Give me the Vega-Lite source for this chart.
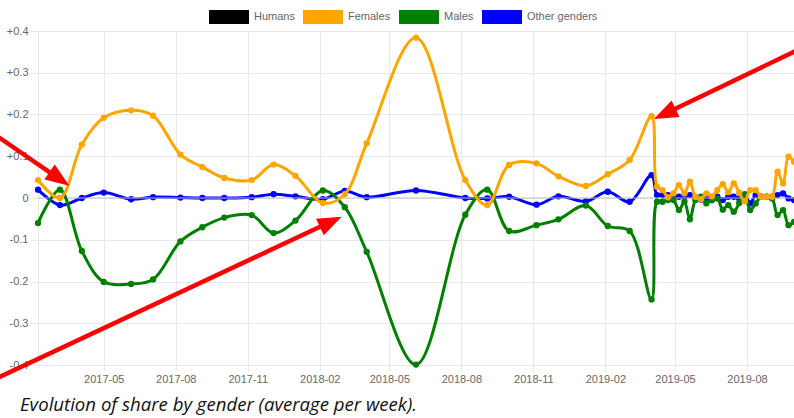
{
  "$schema": "https://vega.github.io/schema/vega-lite/v6.json",
  "width": 756,
  "height": 334,
  "autosize": {"type": "none"},
  "padding": {"left": 38, "top": 31, "right": 0, "bottom": 53},
  "background": "white",
  "config": {
    "view": {"stroke": null},
    "axisX": {
      "grid": true, "gridColor": "#e8e8e8", "tickColor": "#e8e8e8", "tickSize": 6,
      "domainColor": "#e8e8e8", "labelPadding": 2, "labelFlush": false,
      "labelColor": "#666666", "labelFont": "Liberation Sans", "labelFontSize": 11
    },
    "axisY": {
      "grid": true, "gridColor": "#e8e8e8", "tickColor": "#e8e8e8", "tickSize": 8,
      "domainColor": "#e8e8e8", "labelPadding": 2,
      "labelColor": "#666666", "labelFont": "Liberation Sans", "labelFontSize": 11
    }
  },
  "title": {
    "text": "Evolution of share by gender (average per week).",
    "orient": "bottom",
    "anchor": "start",
    "frame": "group",
    "font": "Open Sans",
    "fontStyle": "italic",
    "fontWeight": "normal",
    "fontSize": 18.6,
    "color": "#111111",
    "offset": 12,
    "dx": -18
  },
  "datasets": {
    "series": [
      {"date": "2017-02-06", "Females": 0.043, "Males": -0.060, "Other": 0.020},
      {"date": "2017-03-06", "Females": 0.000, "Males": 0.020, "Other": -0.017},
      {"date": "2017-04-03", "Females": 0.128, "Males": -0.127, "Other": 0.000},
      {"date": "2017-05-01", "Females": 0.192, "Males": -0.201, "Other": 0.013},
      {"date": "2017-06-05", "Females": 0.210, "Males": -0.206, "Other": -0.003},
      {"date": "2017-07-03", "Females": 0.197, "Males": -0.195, "Other": 0.002},
      {"date": "2017-08-07", "Females": 0.104, "Males": -0.104, "Other": 0.001},
      {"date": "2017-09-04", "Females": 0.074, "Males": -0.070, "Other": 0.000},
      {"date": "2017-10-02", "Females": 0.048, "Males": -0.047, "Other": 0.000},
      {"date": "2017-11-06", "Females": 0.043, "Males": -0.041, "Other": 0.002},
      {"date": "2017-12-04", "Females": 0.080, "Males": -0.084, "Other": 0.009},
      {"date": "2018-01-01", "Females": 0.053, "Males": -0.054, "Other": 0.004},
      {"date": "2018-02-05", "Females": -0.012, "Males": 0.018, "Other": -0.003},
      {"date": "2018-03-05", "Females": 0.009, "Males": -0.022, "Other": 0.017},
      {"date": "2018-04-02", "Females": 0.131, "Males": -0.129, "Other": 0.002},
      {"date": "2018-06-04", "Females": 0.384, "Males": -0.399, "Other": 0.018},
      {"date": "2018-08-06", "Females": 0.043, "Males": -0.040, "Other": 0.000},
      {"date": "2018-09-03", "Females": -0.017, "Males": 0.020, "Other": -0.001},
      {"date": "2018-10-01", "Females": 0.079, "Males": -0.079, "Other": 0.003},
      {"date": "2018-11-05", "Females": 0.083, "Males": -0.065, "Other": -0.016},
      {"date": "2018-12-03", "Females": 0.052, "Males": -0.051, "Other": 0.004},
      {"date": "2019-01-07", "Females": 0.029, "Males": -0.018, "Other": -0.008},
      {"date": "2019-02-04", "Females": 0.057, "Males": -0.067, "Other": 0.015},
      {"date": "2019-03-04", "Females": 0.091, "Males": -0.079, "Other": -0.009},
      {"date": "2019-04-01", "Females": 0.196, "Males": -0.243, "Other": 0.055},
      {"date": "2019-04-08", "Females": 0.027, "Males": -0.009, "Other": 0.007},
      {"date": "2019-04-15", "Females": 0.019, "Males": -0.009, "Other": 0.007},
      {"date": "2019-04-22", "Females": 0.002, "Males": -0.005, "Other": 0.007},
      {"date": "2019-04-29", "Females": 0.011, "Males": -0.005, "Other": 0.003},
      {"date": "2019-05-06", "Females": 0.031, "Males": -0.029, "Other": 0.003},
      {"date": "2019-05-13", "Females": 0.011, "Males": -0.009, "Other": 0.003},
      {"date": "2019-05-20", "Females": 0.039, "Males": -0.051, "Other": 0.007},
      {"date": "2019-05-27", "Females": 0.003, "Males": -0.005, "Other": 0.001},
      {"date": "2019-06-03", "Females": -0.003, "Males": 0.003, "Other": -0.004},
      {"date": "2019-06-10", "Females": 0.011, "Males": -0.013, "Other": -0.001},
      {"date": "2019-06-17", "Females": 0.004, "Males": -0.005, "Other": -0.005},
      {"date": "2019-06-24", "Females": 0.019, "Males": -0.001, "Other": 0.003},
      {"date": "2019-07-01", "Females": 0.033, "Males": -0.028, "Other": -0.005},
      {"date": "2019-07-08", "Females": 0.014, "Males": -0.017, "Other": 0.003},
      {"date": "2019-07-15", "Females": 0.035, "Males": -0.033, "Other": 0.003},
      {"date": "2019-07-22", "Females": 0.013, "Males": -0.012, "Other": -0.001},
      {"date": "2019-07-29", "Females": -0.008, "Males": 0.009, "Other": 0.007},
      {"date": "2019-08-05", "Females": 0.019, "Males": -0.029, "Other": -0.013},
      {"date": "2019-08-12", "Females": 0.019, "Males": -0.013, "Other": 0.007},
      {"date": "2019-08-19", "Females": 0.003, "Males": 0.003, "Other": 0.003},
      {"date": "2019-08-26", "Females": 0.003, "Males": 0.003, "Other": 0.003},
      {"date": "2019-09-02", "Females": 0.003, "Males": -0.001, "Other": 0.003},
      {"date": "2019-09-09", "Females": 0.063, "Males": -0.041, "Other": 0.007},
      {"date": "2019-09-16", "Females": 0.035, "Males": -0.029, "Other": 0.011},
      {"date": "2019-09-23", "Females": 0.099, "Males": -0.065, "Other": -0.001},
      {"date": "2019-09-30", "Females": 0.087, "Males": -0.057, "Other": -0.005}
    ],
    "arrows": [
      {"id": 1, "x_from": "2016-12-07", "v_from": 0.1595, "x_to": "2017-03-05", "v_to": 0.0457, "x_tip": "2017-03-18", "v_tip": 0.0295},
      {"id": 2, "x_from": "2016-12-07", "v_from": -0.439, "x_to": "2018-02-15", "v_to": -0.057, "x_tip": "2018-03-01", "v_tip": -0.0448},
      {"id": 3, "x_from": "2019-10-13", "v_from": 0.362, "x_to": "2019-04-18", "v_to": 0.2017, "x_tip": "2019-04-04", "v_tip": 0.189}
    ]
  },
  "layer": [
    {
      "data": {"name": "series"},
      "mark": {"type": "line", "interpolate": "catmull-rom", "strokeWidth": 3, "point": {"filled": true, "size": 40}},
      "encoding": {
        "x": {
          "field": "date", "type": "temporal", "title": null,
          "scale": {"type": "utc", "domain": [{"year": 2017, "month": 2, "date": 6, "utc": true}, {"year": 2019, "month": 9, "date": 30, "utc": true}], "nice": false},
          "axis": {
            "values": [
              {"year": 2017, "month": 5, "date": 1, "utc": true},
              {"year": 2017, "month": 8, "date": 1, "utc": true},
              {"year": 2017, "month": 11, "date": 1, "utc": true},
              {"year": 2018, "month": 2, "date": 1, "utc": true},
              {"year": 2018, "month": 5, "date": 1, "utc": true},
              {"year": 2018, "month": 8, "date": 1, "utc": true},
              {"year": 2018, "month": 11, "date": 1, "utc": true},
              {"year": 2019, "month": 2, "date": 1, "utc": true},
              {"year": 2019, "month": 5, "date": 1, "utc": true},
              {"year": 2019, "month": 8, "date": 1, "utc": true}
            ],
            "labelExpr": "utcFormat(datum.value, '%Y-%m')"
          }
        },
        "y": {
          "field": "Other", "type": "quantitative", "title": null,
          "scale": {"domain": [-0.4, 0.4], "nice": false},
          "axis": {
            "values": [-0.4, -0.3, -0.2, -0.1, 0, 0.1, 0.2, 0.3, 0.4],
            "labelExpr": "datum.value > 0.0001 ? '+' + format(datum.value, '.1f') : (datum.value < -0.0001 ? '-' + format(-datum.value, '.1f') : '0')"
          }
        },
        "color": {
          "datum": "Other genders", "type": "nominal",
          "scale": {"domain": ["Humans", "Females", "Males", "Other genders"], "range": ["black", "orange", "green", "blue"]},
          "legend": {
            "title": null, "orient": "none", "legendX": 164, "legendY": -41, "direction": "horizontal",
            "symbolType": "M-1,0L1,0", "symbolSize": 1600, "symbolStrokeWidth": 14, "symbolOpacity": 1,
            "labelFont": "Liberation Sans", "labelFontSize": 11, "labelColor": "#666666",
            "labelOffset": -2, "columnPadding": -20, "padding": 0
          }
        }
      }
    },
    {
      "data": {"values": [{"zero": 0}]},
      "mark": {"type": "rule", "color": "#bfbfbf", "strokeWidth": 1},
      "encoding": {
        "y": {"field": "zero", "type": "quantitative", "title": null, "scale": {"domain": [-0.4, 0.4], "nice": false},
          "axis": {
            "values": [-0.4, -0.3, -0.2, -0.1, 0, 0.1, 0.2, 0.3, 0.4],
            "labelExpr": "datum.value > 0.0001 ? '+' + format(datum.value, '.1f') : (datum.value < -0.0001 ? '-' + format(-datum.value, '.1f') : '0')"
          }
        }
      }
    },
    {
      "data": {"name": "series"},
      "mark": {"type": "line", "interpolate": "catmull-rom", "strokeWidth": 3, "point": {"filled": true, "size": 40}},
      "encoding": {
        "x": {"field": "date", "type": "temporal", "title": null, "scale": {"type": "utc", "domain": [{"year": 2017, "month": 2, "date": 6, "utc": true}, {"year": 2019, "month": 9, "date": 30, "utc": true}], "nice": false},
          "axis": {"values": [
              {"year": 2017, "month": 5, "date": 1, "utc": true},
              {"year": 2017, "month": 8, "date": 1, "utc": true},
              {"year": 2017, "month": 11, "date": 1, "utc": true},
              {"year": 2018, "month": 2, "date": 1, "utc": true},
              {"year": 2018, "month": 5, "date": 1, "utc": true},
              {"year": 2018, "month": 8, "date": 1, "utc": true},
              {"year": 2018, "month": 11, "date": 1, "utc": true},
              {"year": 2019, "month": 2, "date": 1, "utc": true},
              {"year": 2019, "month": 5, "date": 1, "utc": true},
              {"year": 2019, "month": 8, "date": 1, "utc": true}
            ], "labelExpr": "utcFormat(datum.value, '%Y-%m')"}},
        "y": {"field": "Males", "type": "quantitative", "title": null, "scale": {"domain": [-0.4, 0.4], "nice": false}},
        "color": {"datum": "Males", "type": "nominal", "scale": {"domain": ["Humans", "Females", "Males", "Other genders"], "range": ["black", "orange", "green", "blue"]}}
      }
    },
    {
      "data": {"name": "series"},
      "mark": {"type": "line", "interpolate": "catmull-rom", "strokeWidth": 3, "point": {"filled": true, "size": 40}},
      "encoding": {
        "x": {"field": "date", "type": "temporal", "title": null, "scale": {"type": "utc", "domain": [{"year": 2017, "month": 2, "date": 6, "utc": true}, {"year": 2019, "month": 9, "date": 30, "utc": true}], "nice": false},
          "axis": {"values": [
              {"year": 2017, "month": 5, "date": 1, "utc": true},
              {"year": 2017, "month": 8, "date": 1, "utc": true},
              {"year": 2017, "month": 11, "date": 1, "utc": true},
              {"year": 2018, "month": 2, "date": 1, "utc": true},
              {"year": 2018, "month": 5, "date": 1, "utc": true},
              {"year": 2018, "month": 8, "date": 1, "utc": true},
              {"year": 2018, "month": 11, "date": 1, "utc": true},
              {"year": 2019, "month": 2, "date": 1, "utc": true},
              {"year": 2019, "month": 5, "date": 1, "utc": true},
              {"year": 2019, "month": 8, "date": 1, "utc": true}
            ], "labelExpr": "utcFormat(datum.value, '%Y-%m')"}},
        "y": {"field": "Females", "type": "quantitative", "title": null, "scale": {"domain": [-0.4, 0.4], "nice": false}},
        "color": {"datum": "Females", "type": "nominal", "scale": {"domain": ["Humans", "Females", "Males", "Other genders"], "range": ["black", "orange", "green", "blue"]}}
      }
    },
    {
      "data": {"name": "arrows"},
      "mark": {"type": "rule", "color": "red", "strokeWidth": 4.5},
      "encoding": {
        "x": {"field": "x_from", "type": "temporal", "title": null, "scale": {"type": "utc", "domain": [{"year": 2017, "month": 2, "date": 6, "utc": true}, {"year": 2019, "month": 9, "date": 30, "utc": true}], "nice": false},
          "axis": {"values": [
              {"year": 2017, "month": 5, "date": 1, "utc": true},
              {"year": 2017, "month": 8, "date": 1, "utc": true},
              {"year": 2017, "month": 11, "date": 1, "utc": true},
              {"year": 2018, "month": 2, "date": 1, "utc": true},
              {"year": 2018, "month": 5, "date": 1, "utc": true},
              {"year": 2018, "month": 8, "date": 1, "utc": true},
              {"year": 2018, "month": 11, "date": 1, "utc": true},
              {"year": 2019, "month": 2, "date": 1, "utc": true},
              {"year": 2019, "month": 5, "date": 1, "utc": true},
              {"year": 2019, "month": 8, "date": 1, "utc": true}
            ], "labelExpr": "utcFormat(datum.value, '%Y-%m')"}},
        "x2": {"field": "x_to"},
        "y": {"field": "v_from", "type": "quantitative", "title": null, "scale": {"domain": [-0.4, 0.4], "nice": false}},
        "y2": {"field": "v_to"}
      }
    },
    {
      "data": {"name": "arrows"},
      "transform": [{"filter": "datum.id == 1"}],
      "mark": {"type": "point", "shape": "M0,0L-0.38,1L0.38,1Z", "size": 2304, "angle": 124.5, "filled": true, "color": "red", "opacity": 1, "strokeWidth": 0},
      "encoding": {
        "x": {"field": "x_tip", "type": "temporal", "title": null, "scale": {"type": "utc", "domain": [{"year": 2017, "month": 2, "date": 6, "utc": true}, {"year": 2019, "month": 9, "date": 30, "utc": true}], "nice": false},
          "axis": {"values": [
              {"year": 2017, "month": 5, "date": 1, "utc": true},
              {"year": 2017, "month": 8, "date": 1, "utc": true},
              {"year": 2017, "month": 11, "date": 1, "utc": true},
              {"year": 2018, "month": 2, "date": 1, "utc": true},
              {"year": 2018, "month": 5, "date": 1, "utc": true},
              {"year": 2018, "month": 8, "date": 1, "utc": true},
              {"year": 2018, "month": 11, "date": 1, "utc": true},
              {"year": 2019, "month": 2, "date": 1, "utc": true},
              {"year": 2019, "month": 5, "date": 1, "utc": true},
              {"year": 2019, "month": 8, "date": 1, "utc": true}
            ], "labelExpr": "utcFormat(datum.value, '%Y-%m')"}},
        "y": {"field": "v_tip", "type": "quantitative", "title": null, "scale": {"domain": [-0.4, 0.4], "nice": false}}
      }
    },
    {
      "data": {"name": "arrows"},
      "transform": [{"filter": "datum.id == 2"}],
      "mark": {"type": "point", "shape": "M0,0L-0.38,1L0.38,1Z", "size": 2304, "angle": 64.9, "filled": true, "color": "red", "opacity": 1, "strokeWidth": 0},
      "encoding": {
        "x": {"field": "x_tip", "type": "temporal", "title": null, "scale": {"type": "utc", "domain": [{"year": 2017, "month": 2, "date": 6, "utc": true}, {"year": 2019, "month": 9, "date": 30, "utc": true}], "nice": false},
          "axis": {"values": [
              {"year": 2017, "month": 5, "date": 1, "utc": true},
              {"year": 2017, "month": 8, "date": 1, "utc": true},
              {"year": 2017, "month": 11, "date": 1, "utc": true},
              {"year": 2018, "month": 2, "date": 1, "utc": true},
              {"year": 2018, "month": 5, "date": 1, "utc": true},
              {"year": 2018, "month": 8, "date": 1, "utc": true},
              {"year": 2018, "month": 11, "date": 1, "utc": true},
              {"year": 2019, "month": 2, "date": 1, "utc": true},
              {"year": 2019, "month": 5, "date": 1, "utc": true},
              {"year": 2019, "month": 8, "date": 1, "utc": true}
            ], "labelExpr": "utcFormat(datum.value, '%Y-%m')"}},
        "y": {"field": "v_tip", "type": "quantitative", "title": null, "scale": {"domain": [-0.4, 0.4], "nice": false}}
      }
    },
    {
      "data": {"name": "arrows"},
      "transform": [{"filter": "datum.id == 3"}],
      "mark": {"type": "point", "shape": "M0,0L-0.38,1L0.38,1Z", "size": 2304, "angle": 244.3, "filled": true, "color": "red", "opacity": 1, "strokeWidth": 0},
      "encoding": {
        "x": {"field": "x_tip", "type": "temporal", "title": null, "scale": {"type": "utc", "domain": [{"year": 2017, "month": 2, "date": 6, "utc": true}, {"year": 2019, "month": 9, "date": 30, "utc": true}], "nice": false},
          "axis": {"values": [
              {"year": 2017, "month": 5, "date": 1, "utc": true},
              {"year": 2017, "month": 8, "date": 1, "utc": true},
              {"year": 2017, "month": 11, "date": 1, "utc": true},
              {"year": 2018, "month": 2, "date": 1, "utc": true},
              {"year": 2018, "month": 5, "date": 1, "utc": true},
              {"year": 2018, "month": 8, "date": 1, "utc": true},
              {"year": 2018, "month": 11, "date": 1, "utc": true},
              {"year": 2019, "month": 2, "date": 1, "utc": true},
              {"year": 2019, "month": 5, "date": 1, "utc": true},
              {"year": 2019, "month": 8, "date": 1, "utc": true}
            ], "labelExpr": "utcFormat(datum.value, '%Y-%m')"}},
        "y": {"field": "v_tip", "type": "quantitative", "title": null, "scale": {"domain": [-0.4, 0.4], "nice": false}}
      }
    }
  ]
}
